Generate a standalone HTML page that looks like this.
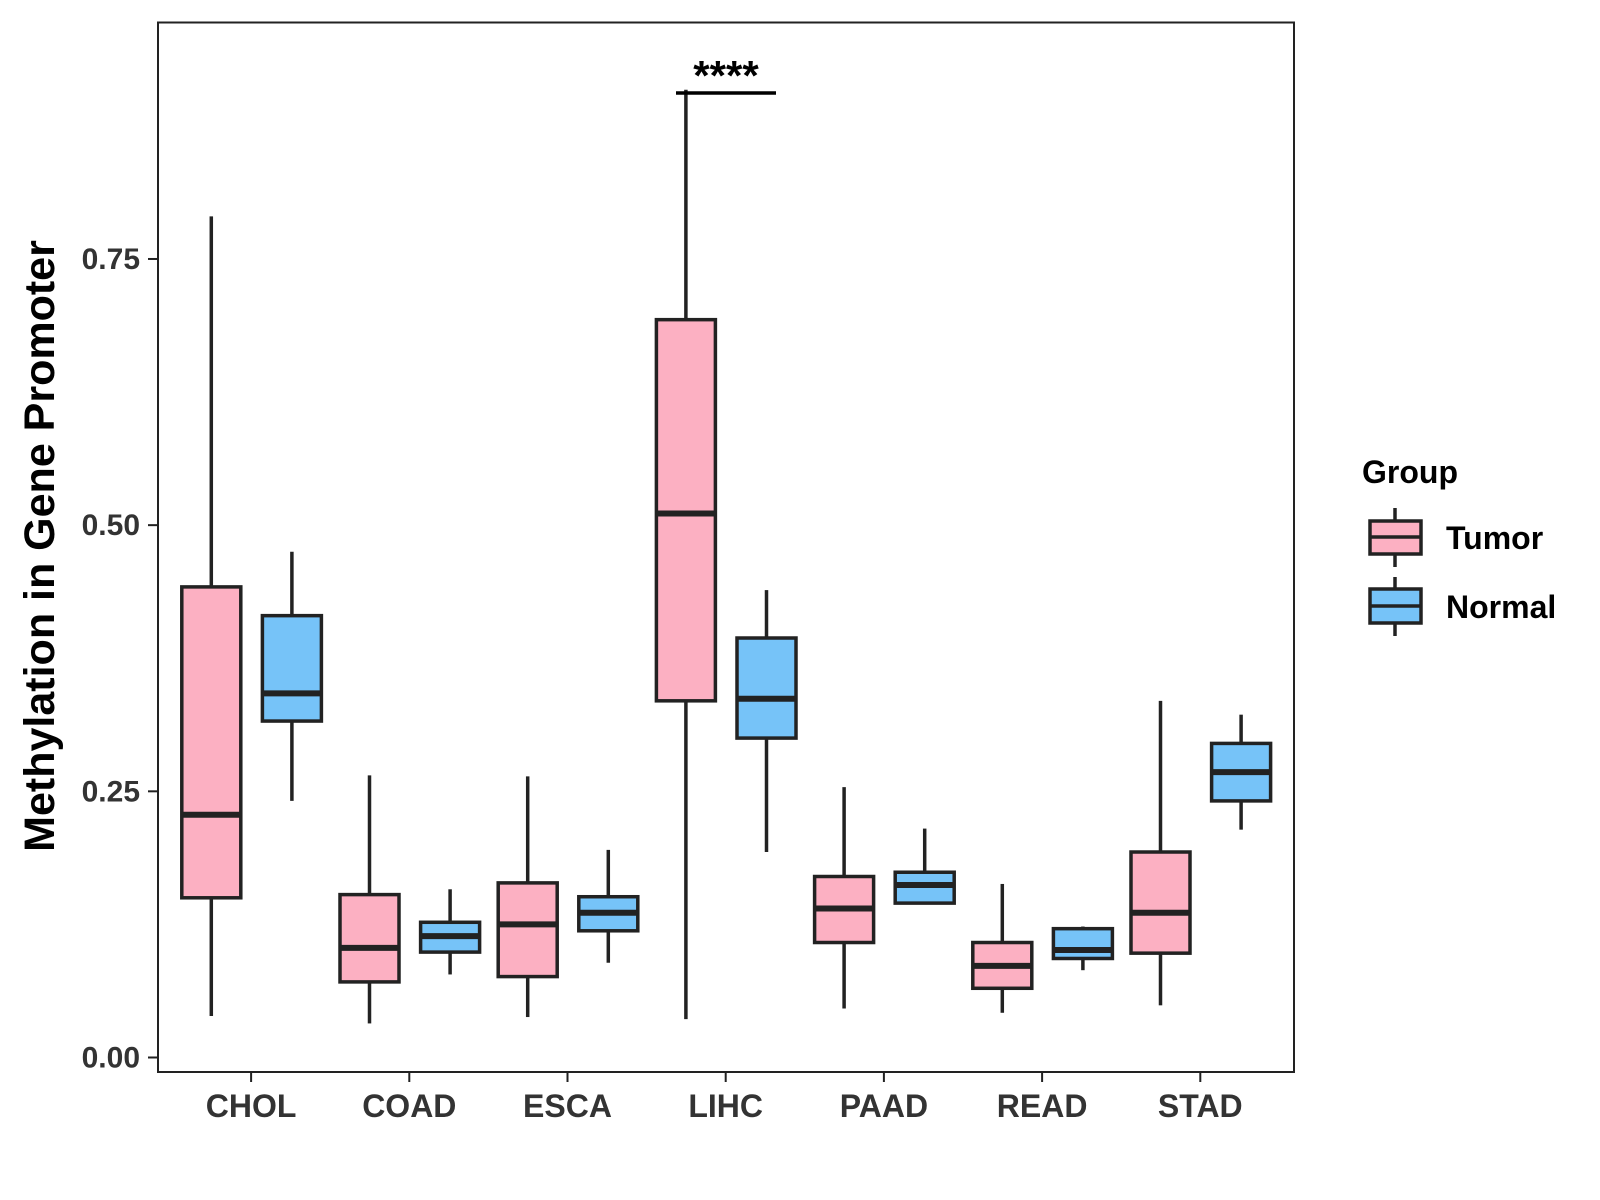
<!DOCTYPE html>
<html><head><meta charset="utf-8"><style>
body{margin:0;background:#fff;}
svg{display:block;font-family:"Liberation Sans",Arial,sans-serif;}
</style></head><body>
<svg id="chart" width="1600" height="1200">
<rect x="158" y="22.5" width="1136" height="1049.5" fill="#fff" stroke="#222" stroke-width="2"/>
<g id="marks"></g>
<g id="axes"></g>
<text x="54" y="546" transform="rotate(-90 54 546)" text-anchor="middle" font-size="43" font-weight="bold" fill="#000">Methylation in Gene Promoter</text>
<line x1="676" y1="93" x2="776" y2="93" stroke="#000" stroke-width="3.5"/>
<text x="726" y="90" text-anchor="middle" font-size="42" font-weight="bold">****</text>
<g>
<text x="1362" y="483" font-size="32" font-weight="bold">Group</text>
<g>
<line x1="1395" y1="508" x2="1395" y2="567" stroke="#222" stroke-width="3.5"/>
<rect x="1370" y="521" width="51" height="33" fill="#FCB0C2" stroke="#222" stroke-width="3.5"/>
<line x1="1370" y1="537" x2="1421" y2="537" stroke="#222" stroke-width="3.5"/>
<text x="1446" y="549" font-size="32" font-weight="bold">Tumor</text></g>
<g>
<line x1="1395" y1="577" x2="1395" y2="636" stroke="#222" stroke-width="3.5"/>
<rect x="1370" y="589" width="51" height="34" fill="#76C3F8" stroke="#222" stroke-width="3.5"/>
<line x1="1370" y1="606" x2="1421" y2="606" stroke="#222" stroke-width="3.5"/>
<text x="1446" y="618" font-size="32" font-weight="bold">Normal</text></g>
</g>
</svg>
<script>
const categories=["CHOL","COAD","ESCA","LIHC","PAAD","READ","STAD"];
const yTicks=[0,0.25,0.5,0.75];
const yTickLabels=["0.00","0.25","0.50","0.75"];
// [low, q1, median, q3, high]
const tumorStats=[[0.039,0.150,0.228,0.442,0.790],[0.032,0.071,0.103,0.153,0.265],[0.038,0.076,0.125,0.164,0.264],[0.036,0.335,0.511,0.693,0.909],[0.046,0.108,0.140,0.170,0.254],[0.042,0.065,0.086,0.108,0.163],[0.049,0.098,0.136,0.193,0.335]];
const normalStats=[[0.241,0.316,0.342,0.415,0.475],[0.078,0.099,0.114,0.127,0.158],[0.089,0.119,0.136,0.151,0.195],[0.193,0.300,0.337,0.394,0.439],[0.145,0.145,0.162,0.174,0.215],[0.082,0.093,0.101,0.121,0.123],[0.214,0.241,0.268,0.295,0.322]];
const NS="http://www.w3.org/2000/svg";
const y=v=>1057.5-v*1064.7;
const x=i=>251.1+i*158.2;
const marks=document.getElementById('marks'),axes=document.getElementById('axes');
function mk(tag,at,parent){const e=document.createElementNS(NS,tag);for(const k in at)e.setAttribute(k,at[k]);parent.appendChild(e);return e;}
function box(s,cx,fill,name){
 const g=mk('g',{},marks);
 
 
 const st={stroke:"#222","stroke-width":3.5};
 mk('line',Object.assign({x1:cx,x2:cx,y1:y(s[4]),y2:y(s[3])},st),g);
 mk('line',Object.assign({x1:cx,x2:cx,y1:y(s[1]),y2:y(s[0])},st),g);
 mk('rect',Object.assign({x:cx-29.5,width:59,y:y(s[3]),height:y(s[1])-y(s[3]),fill:fill},st),g);
 mk('line',{x1:cx-29.5,x2:cx+29.5,y1:y(s[2]),y2:y(s[2]),stroke:"#222","stroke-width":6},g);
}
categories.forEach((c,i)=>{
 box(tumorStats[i],x(i)-39.8,"#FCB0C2","box-tumor-"+c.toLowerCase());
 box(normalStats[i],x(i)+40.8,"#76C3F8","box-normal-"+c.toLowerCase());
 mk('line',{x1:x(i),x2:x(i),y1:1072,y2:1082,stroke:"#222","stroke-width":2},axes);
 const t=mk('text',{x:x(i),y:1117,"text-anchor":"middle","font-size":32,"font-weight":"bold",fill:"#333"},axes);
 
 
 t.textContent=c;
});
yTicks.forEach((v,i)=>{
 mk('line',{x1:148,x2:158,y1:y(v),y2:y(v),stroke:"#222","stroke-width":2},axes);
 const t=mk('text',{x:140,y:y(v)+10,"text-anchor":"end","font-size":30,"font-weight":"bold",fill:"#333"},axes);
 
 
 t.textContent=yTickLabels[i];
});
</script>
</body></html>
